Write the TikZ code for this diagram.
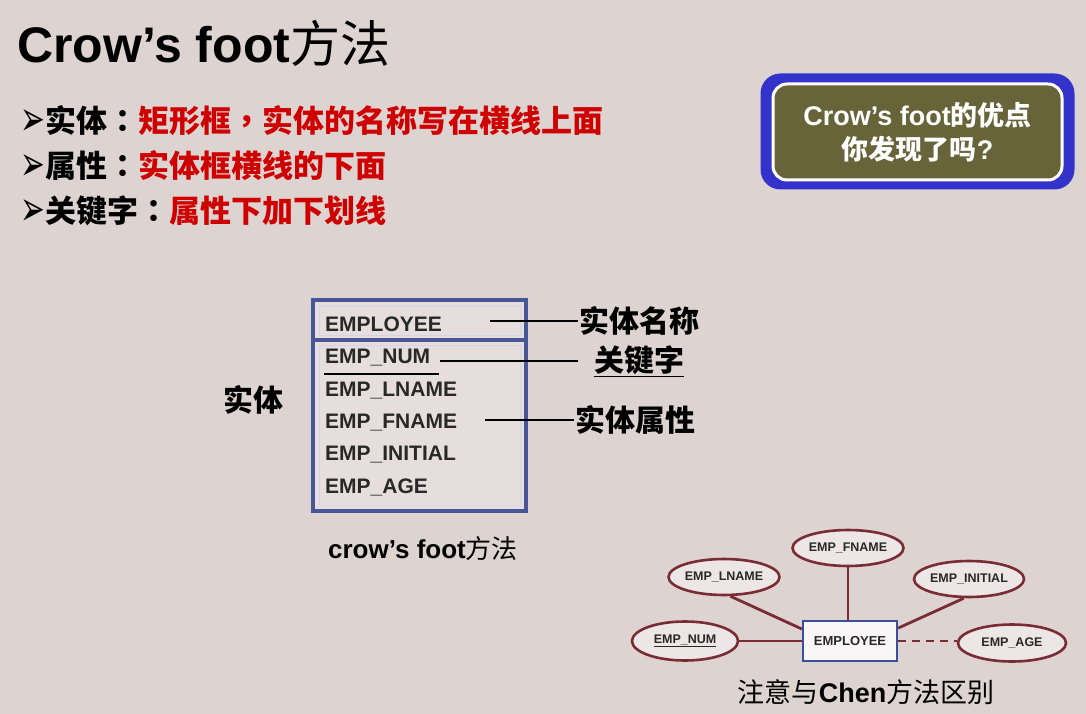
\documentclass[tikz,border=0pt]{standalone}
\usepackage{fontspec}
\setmainfont{Liberation Sans}
\newfontfamily\cjk{Noto Sans CJK SC}
\newfontfamily\cjkpunct{Noto Sans CJK TC}
\newfontfamily\sym{DejaVu Sans}
\usetikzlibrary{shapes.geometric,backgrounds}
\newcommand\setfs[1]{\fontsize{#1}{#1}\selectfont}
\newcommand\fwcolon{{\cjkpunct ：}}
\newcommand\fwcomma{{\cjkpunct ，}}
\newcommand\bul{{\sym\setfs{27}\raisebox{-3pt}{\scalebox{1.1}[1.8]{➢}}}}
\definecolor{bgc}{RGB}{221,212,210}
\definecolor{hired}{RGB}{206,0,0}
\definecolor{boxblue}{RGB}{51,51,204}
\definecolor{olivebox}{RGB}{102,100,56}
\definecolor{cfblue}{RGB}{72,86,150}
\definecolor{chenblue}{RGB}{58,78,156}
\definecolor{maroon}{RGB}{122,44,52}
\definecolor{attrgray}{RGB}{40,40,40}
\tikzset{
  bullet/.style={anchor=west, inner sep=0, font=\setfs{31}},
  cfattr/.style={anchor=west, inner sep=1, text=attrgray, font=\bfseries\setfs{21}},
  lead/.style={draw=black, line width=1.3},
  label/.style={anchor=west, inner sep=1, font=\cjk\bfseries\setfs{30}},
  chenattr/.style={ellipse, draw=maroon, line width=2.6, fill=white!45!bgc,
    minimum width=104, minimum height=36, inner sep=0,
    text=attrgray, font=\bfseries\setfs{12.5}},
  chenlink/.style={draw=maroon, line width=2.8},
}
\begin{document}
\begin{tikzpicture}[x=1pt,y=-1pt]
\useasboundingbox (0,0) rectangle (1086,714);

% title
\node[anchor=base west, inner sep=0] (title) at (17,63)
  {\setfs{50}\bfseries Crow’s foot{\cjk\mdseries 方法}};

% bullet list
\node[bullet] (b1) at (20,121) {\bul{\cjk\bfseries 实体\fwcolon\color{hired}矩形框\fwcomma 实体的名称写在横线上面}};
\node[bullet] (b2) at (20,166) {\bul{\cjk\bfseries 属性\fwcolon\color{hired}实体框横线的下面}};
\node[bullet] (b3) at (20,211) {\bul{\cjk\bfseries 关键字\fwcolon\color{hired}属性下加下划线}};

% advantage box
\node[draw=white, line width=3, fill=olivebox, rounded corners=14,
  minimum width=289, minimum height=96, align=center, text=white,
  font=\bfseries\fontsize{27}{34}\selectfont] (adv) at (917.5,132)
  {Crow’s foot{\cjk 的优点}\\{\cjk 你发现了吗}?};
\begin{scope}[on background layer]
  \fill[bgc] (0,0) rectangle (1086,714);
  \fill[boxblue, rounded corners=20] ([shift={(-11,-9)}]adv.north west) rectangle ([shift={(11,8)}]adv.south east);
\end{scope}

% crow's foot entity box
\fill[white, opacity=0.25] (313,300) rectangle (526,511);
\draw[white!75!cfblue, line width=1] (319,306) rectangle (520,335) (319,345) rectangle (520,505);
\draw[cfblue, line width=4] (313,300) rectangle (526,511);
\draw[cfblue, line width=4] (313,340) -- (526,340);

\node[cfattr] (ename) at (324,324) {EMPLOYEE};
\node[cfattr] (anum) at (324,358) {EMP\_NUM};
\draw[black, line width=1.6] ([yshift=-10pt]anum.base west) -- ([xshift=8pt,yshift=-10pt]anum.base east);
\node[cfattr] (alname) at (324,391) {EMP\_LNAME};
\node[cfattr] (afname) at (324,423) {EMP\_FNAME};
\node[cfattr] (ainit) at (324,455) {EMP\_INITIAL};
\node[cfattr] (aage) at (324,487) {EMP\_AGE};

% annotations
\node[label] (lname) at (578,321) {实体名称};
\node[label] (lkey) at (593,361) {\underline{关键字}};
\node[label] (lattr) at (574,420) {实体属性};
\node[label, anchor=center] (lent) at (253,400) {实体};
\draw[lead] (lname.west) -- ++(-88,0);
\draw[lead] (lkey.west) ++(-15,0) -- ++(-138,0);
\draw[lead] (lattr.west) -- ++(-89,0);

\node[inner sep=0] (cfcap) at (423,549) {\setfs{26}\bfseries crow’s foot{\cjk\mdseries 方法}};

% Chen notation
\node[draw=chenblue, line width=2.4, fill=white!80!bgc, minimum width=94, minimum height=40,
  inner sep=0, text=attrgray, font=\bfseries\setfs{13}] (emp) at (850,641) {EMPLOYEE};
\node[chenattr] (cfn) at (848,548) {EMP\_FNAME};
\node[chenattr] (cln) at (724,577) {EMP\_LNAME};
\node[chenattr, minimum width=106] (cin) at (969,579) {EMP\_INITIAL};
\node[chenattr, minimum width=106, minimum height=39] (cnum) at (685,641) {\underline{EMP\_NUM}};
\node[chenattr, minimum width=108, minimum height=37] (cage) at (1012,643) {EMP\_AGE};

\draw[chenlink] (cfn.south) -- (cfn.south |- emp.north);
\draw[chenlink] (cln.-72) -- (emp.166);
\draw[chenlink] (cin.-105) -- (emp.15);
\draw[chenlink] (cnum.east) -- (emp.west);
\draw[chenlink, dash pattern=on 8pt off 6pt] (emp.east) -- (emp.east -| cage.west);

\node[inner sep=0] (chencap) at (866,692) {\setfs{27}{\cjk 注意与}\bfseries Chen{\cjk\mdseries 方法区别}};
\end{tikzpicture}
\end{document}
